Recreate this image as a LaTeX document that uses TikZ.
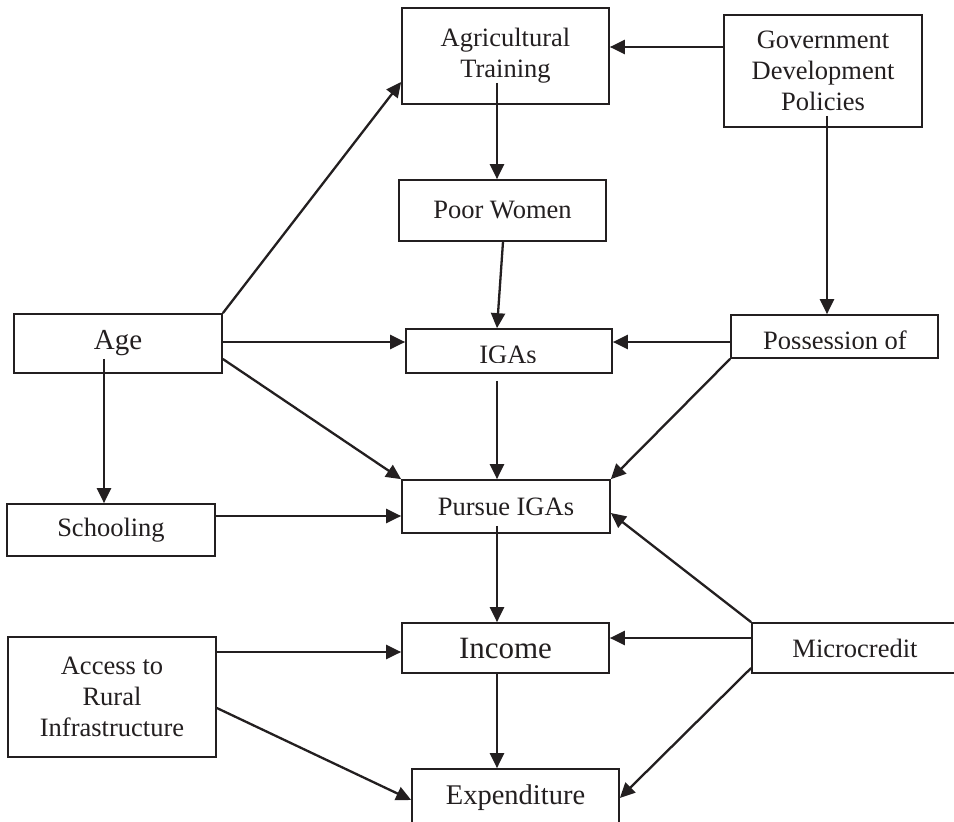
\documentclass[tikz,border=0pt]{standalone}
\usepackage{fontspec}
\setmainfont{Liberation Serif}
\usetikzlibrary{arrows.meta,calc}
\definecolor{ink}{HTML}{231F20}
\begin{document}
\begin{tikzpicture}[x=1pt,y=-1pt,
  box/.style={draw=ink,line width=1.7pt,rectangle,inner sep=0pt,align=center,text=ink,
    font=\fontsize{26.5}{31}\selectfont},
  lbl/.style={inner sep=0pt,text=ink,font=\fontsize{26.5}{31}\selectfont},
  arr/.style={draw=ink,line width=2.3pt,-{Triangle[length=15pt,width=14pt]}},
  ln/.style={draw=ink,line width=2.3pt}]
\clip (0,0) rectangle (954,822);
\fill[white] (0,0) rectangle (954,822);
% boxes
\node[box,minimum width=207pt,minimum height=96pt] (agr) at (505.5,56) {Agricultural\\Training};
\node[box,minimum width=198pt,minimum height=112pt] (gov) at (823,71) {Government\\Development\\Policies};
\node[box,minimum width=207pt,minimum height=61pt] (pw) at (502.5,210.5) {Poor Women};
\node[box,minimum width=208pt,minimum height=59pt,font=\fontsize{29}{33}\selectfont] (age) at (118,343.5) {Age};
\node[box,minimum width=206pt,minimum height=44pt] (igas) at (509,351) {};
\node[box,minimum width=207pt,minimum height=43pt] (poss) at (834.5,336.5) {};
\node[box,minimum width=208pt,minimum height=52pt] (school) at (111,530) {Schooling};
\node[box,minimum width=208pt,minimum height=53pt] (pursue) at (506,506.5) {Pursue IGAs};
\node[box,minimum width=208pt,minimum height=120pt] (access) at (112,697) {Access to\\Rural\\Infrastructure};
\node[box,minimum width=207pt,minimum height=50pt,font=\fontsize{31}{35}\selectfont] (income) at (505.5,648) {Income};
\node[box,minimum width=206pt,minimum height=50pt] (micro) at (855,648) {Microcredit};
\node[box,minimum width=207pt,minimum height=58pt,font=\fontsize{28.5}{33}\selectfont] (exp) at (515.5,798) {Expenditure};
% clipped labels
\begin{scope}
  \clip (406,331) rectangle (611,362.5);
  \node[lbl,anchor=base] (igast) at (508,363) {IGAs};
\end{scope}
\begin{scope}
  \clip (733,316) rectangle (937,348.5);
  \node[lbl,anchor=base] (posst) at (835,349.5) {Possession of};
\end{scope}
% connectors
\draw[arr] (gov.west |- 0,47) -- (agr.east |- 0,47);
\draw[arr] ($(agr.south -| 497,0)+(0,-22)$) -- (pw.north -| 497,0);
\draw[arr] (pw.south -| 503,0) -- (igas.north -| 497,0);
\draw[arr] (age.north east) -- (agr.west |- 0,82);
\draw[arr] (age.east |- 0,342) -- (igas.west |- 0,342);
\draw[arr] (age.east |- 0,359) -- (pursue.north west);
\draw[arr] ($(age.south -| 104,0)+(0,-15)$) -- (school.north -| 104,0);
\draw[arr] (school.east |- 0,516) -- (pursue.west |- 0,516);
\draw[arr] ($(igas.south -| 497,0)+(0,7)$) -- (pursue.north -| 497,0);
\draw[arr] (poss.west |- 0,342) -- (igas.east |- 0,342);
\draw[arr] (poss.south west) -- (pursue.north east);
\draw[arr] ($(gov.south -| 827,0)+(0,-12)$) -- (poss.north -| 827,0);
\draw[arr] ($(pursue.south -| 497,0)+(0,-8)$) -- (income.north -| 497,0);
\draw[arr] (micro.north west) -- (pursue.east |- 0,513);
\draw[arr] (micro.west |- 0,638) -- (income.east |- 0,638);
\draw[arr] (micro.west |- 0,668) -- (exp.east |- 0,798);
\draw[arr] (income.south -| 497,0) -- (exp.north -| 497,0);
\draw[arr] (access.east |- 0,652) -- (income.west |- 0,652);
\draw[arr] (access.east |- 0,708) -- (exp.west |- 0,800);
\end{tikzpicture}
\end{document}
